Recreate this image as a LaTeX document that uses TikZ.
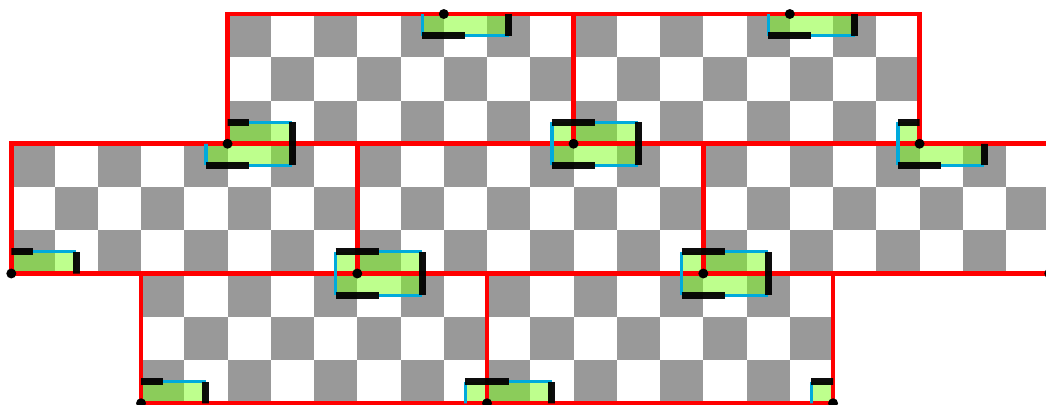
\documentclass[tikz,border=0pt]{standalone}
\usepackage{xcolor}
\usetikzlibrary{positioning}
\definecolor{cellgray}{RGB}{153,153,153}
\definecolor{tilegreen}{RGB}{126,255,28}
\definecolor{edgered}{RGB}{255,0,0}
\definecolor{edgeblue}{RGB}{0,170,220}
\tikzset{
  bluepart/.style={draw=edgeblue,line width=1.8pt},
  blackbar/.style={draw=black,draw opacity=0.95,line width=4pt},
  redpart/.style={draw=edgered,line width=2.6pt},
  greenpart/.style={fill=tilegreen,fill opacity=0.5},
}
\begin{document}
\begin{tikzpicture}[x=0.865cm,y=0.865cm]
\useasboundingbox (-0.2613,-0.04) rectangle (23.924,9.324);
\def\blockclip{\clip (3,0) rectangle (19,3) (0,3) rectangle (24,6) (5,6) rectangle (21,9);}
\def\tilelist{3/0,11/0,19/0,0/3,8/3,16/3,5/6,13/6,21/6,10/9,18/9}
%% Checker cells
\begin{scope}
\blockclip
\foreach \x in {0,...,23}{
  \foreach \y in {0,...,8}{
    \ifodd\numexpr\x+\y\relax
      \fill[cellgray] (\x,\y) rectangle (\x+1,\y+1);
    \fi
  }
}
%% Green tiles
\foreach \x/\y in \tilelist{
  \fill[greenpart] (\x-0.5,\y-0.5) rectangle (\x+1.5,\y+0.5);
}
\end{scope}
%% Red blocks
\draw[redpart] (3,0) rectangle (19,3);
\draw[redpart] (0,3) rectangle (24,6);
\draw[redpart] (5,6) rectangle (21,9);
\draw[redpart] (11,0) -- (11,3);
\draw[redpart] (8,3) -- (8,6);
\draw[redpart] (16,3) -- (16,6);
\draw[redpart] (13,6) -- (13,9);
%% Tile edges
\begin{scope}
\blockclip
\foreach \x/\y in \tilelist{
  \draw[bluepart] (\x-0.5,\y-0.5) -- (\x-0.5,\y+0.5);
  \draw[bluepart] (\x+0.5,\y+0.5) -- (\x+1.5,\y+0.5);
  \draw[bluepart] (\x+0.5,\y-0.5) -- (\x+1.5,\y-0.5);
  \draw[blackbar] (\x-0.5,\y+0.5) -- (\x+0.5,\y+0.5);
  \draw[blackbar] (\x-0.5,\y-0.5) -- (\x+0.5,\y-0.5);
  \draw[blackbar] (\x+1.5,\y-0.5) -- (\x+1.5,\y+0.5);
}
\end{scope}
%% Dots
\foreach \x/\y in \tilelist{
  \fill[black] (\x,\y) circle (0.115);
}
\fill[black] (24,3) circle (0.115);
\end{tikzpicture}
\end{document}
